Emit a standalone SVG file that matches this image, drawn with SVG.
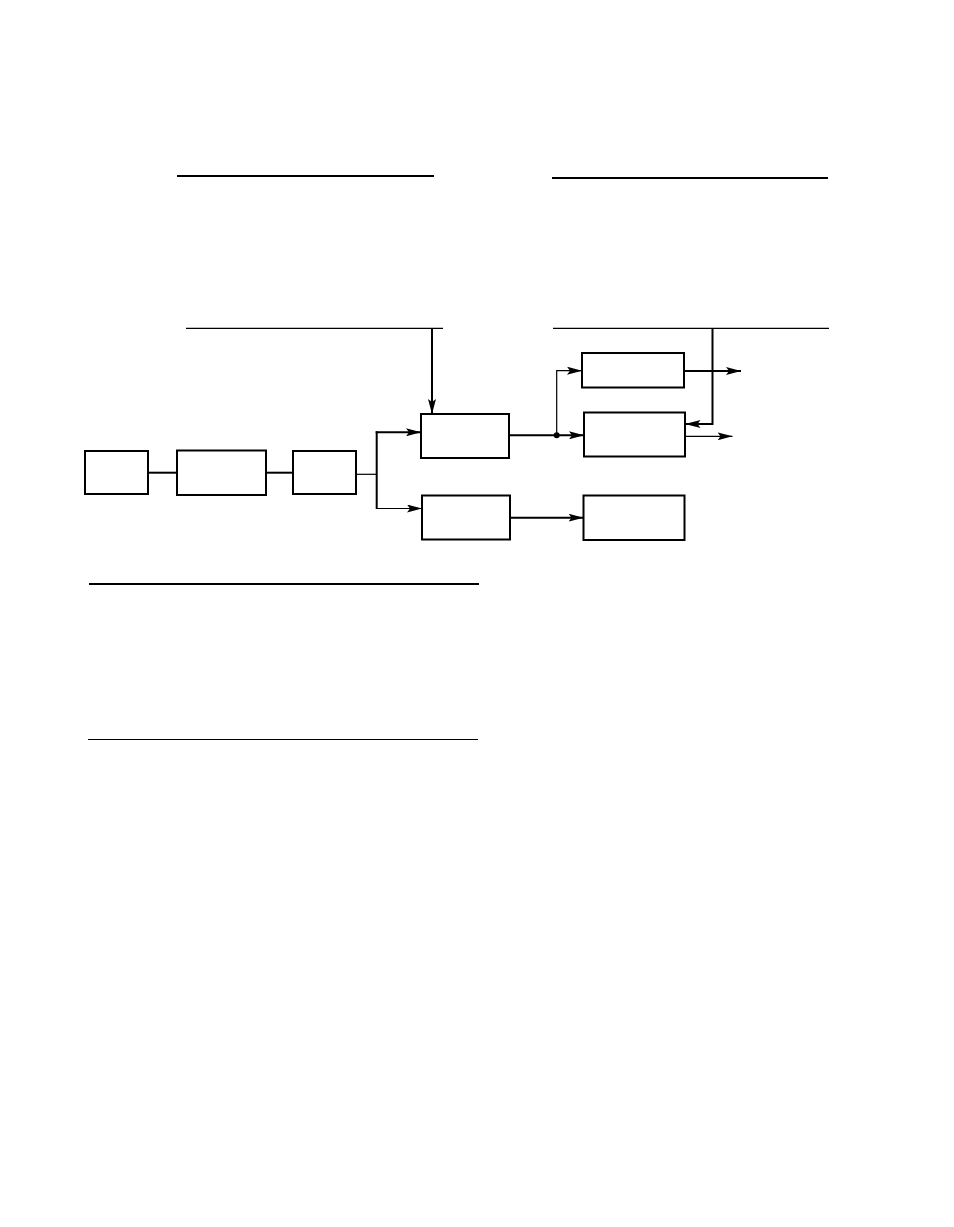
<svg xmlns="http://www.w3.org/2000/svg" width="954" height="1227" viewBox="0 0 954 1227">
<style>
.box{fill:#fff;stroke:#000;stroke-width:2}
.rule{stroke:#000;fill:none}
.c{stroke:#000;fill:none;stroke-width:2}
.t{stroke:#000;fill:none;stroke-width:1.2}
</style>
<defs>
<marker id="ah" viewBox="0 0 15 8" refX="15" refY="4" markerWidth="15" markerHeight="8" orient="auto" markerUnits="userSpaceOnUse">
<path d="M0,0 L15,4 L0,8 L3,4 Z" fill="#000"/>
</marker>
</defs>
<rect width="954" height="1227" fill="#fff"/>
<g id="rules">
<line class="rule" x1="177" y1="176" x2="434" y2="176" stroke-width="2"/>
<line class="rule" x1="552" y1="178" x2="828" y2="178" stroke-width="2"/>
<line class="rule" x1="186" y1="328.3" x2="443" y2="328.3" stroke-width="1.2"/>
<line class="rule" x1="553" y1="328.3" x2="829" y2="328.3" stroke-width="1.2"/>
<line class="rule" x1="89" y1="584" x2="479" y2="584" stroke-width="2"/>
<line class="rule" x1="88" y1="739.5" x2="478" y2="739.5" stroke-width="1.2"/>
</g>
<g id="connectors">
<line class="c" x1="148" y1="472.7" x2="177" y2="472.7"/>
<line class="c" x1="266" y1="472.7" x2="293" y2="472.7"/>
<line class="t" x1="356" y1="474.3" x2="376.7" y2="474.3"/>
<line class="c" x1="376.7" y1="431.3" x2="376.7" y2="509"/>
<line class="c" x1="375.7" y1="432.3" x2="421" y2="432.3" marker-end="url(#ah)"/>
<line class="t" x1="376.7" y1="508.5" x2="422" y2="508.5" marker-end="url(#ah)"/>
<line class="c" x1="432" y1="328" x2="432" y2="414" marker-end="url(#ah)"/>
<line class="c" x1="509" y1="435.3" x2="584" y2="435.3" marker-end="url(#ah)"/>
<circle cx="556.7" cy="435.3" r="3" fill="#000"/>
<polyline class="t" points="556.7,435.3 556.7,370.7 582,370.7" marker-end="url(#ah)"/>
<line class="c" x1="684" y1="371" x2="741" y2="371" stroke-width="2.5" marker-end="url(#ah)"/>
<polyline class="c" points="712.5,328 712.5,424 685.5,424" marker-end="url(#ah)"/>
<line class="t" x1="685" y1="436.3" x2="732.5" y2="436.3" marker-end="url(#ah)"/>
<line class="c" x1="510" y1="517.7" x2="583.5" y2="517.7" marker-end="url(#ah)"/>
</g>
<g id="nodeA"><rect class="box" x="85" y="451" width="63" height="43"/></g>
<g id="nodeB"><rect class="box" x="177" y="450.5" width="89" height="44.5"/></g>
<g id="nodeC"><rect class="box" x="293" y="451" width="63" height="43"/></g>
<g id="nodeD"><rect class="box" x="421" y="414" width="88" height="44"/></g>
<g id="nodeE"><rect class="box" x="422" y="495.5" width="88" height="44"/></g>
<g id="nodeF"><rect class="box" x="582" y="353" width="102" height="34.5"/></g>
<g id="nodeG"><rect class="box" x="584" y="412.5" width="101" height="44"/></g>
<g id="nodeH"><rect class="box" x="583.5" y="495.5" width="101" height="44.5"/></g>
</svg>
